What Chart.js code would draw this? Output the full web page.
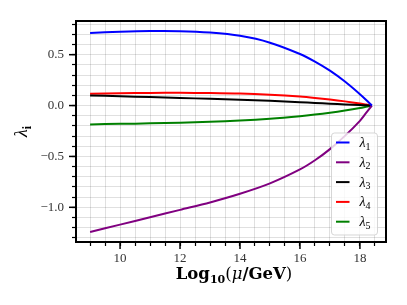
<!DOCTYPE html>
<html>
<head>
<meta charset="utf-8">
<script src="https://cdn.jsdelivr.net/npm/chart.js@4/dist/chart.umd.min.js"></script>
<style>
html,body{margin:0;padding:0;background:#fff;}
#wrap{width:407px;height:305px;position:relative;}
</style>
</head>
<body>
<div id="wrap"><canvas id="c" width="407" height="305"></canvas></div>
<script>
// ---- data ----
const xVals   = [9, 10, 11, 12, 13, 14, 15, 16, 16.5, 17, 17.5, 18, 18.2, 18.4];
const lambda1 = [0.713, 0.725, 0.732, 0.731, 0.717, 0.685, 0.618, 0.507, 0.432, 0.343, 0.236, 0.112, 0.058, 0];
const lambda2 = [-1.242, -1.17, -1.098, -1.025, -0.952, -0.867, -0.765, -0.628, -0.538, -0.428, -0.298, -0.15, -0.075, 0];
const lambda3 = [0.10, 0.092, 0.083, 0.075, 0.066, 0.057, 0.046, 0.033, 0.026, 0.018, 0.011, 0.005, 0.002, 0];
const lambda4 = [0.115, 0.121, 0.124, 0.125, 0.123, 0.118, 0.106, 0.088, 0.075, 0.059, 0.041, 0.02, 0.01, 0];
const lambda5 = [-0.185, -0.18, -0.175, -0.168, -0.16, -0.148, -0.13, -0.105, -0.089, -0.07, -0.049, -0.025, -0.013, 0];
const seriesNames  = ['1', '2', '3', '4', '5'];
const seriesColors = ['#0000ff', '#800080', '#000000', '#ff0000', '#008000'];
const xMajorTicks = [10, 12, 14, 16, 18];
const yMajorTicks = [-1.0, -0.5, 0.0, 0.5];
const xRange = [8.53, 18.87];
const yRange = [-1.341, 0.831];

const SERIF = '"Liberation Serif", "DejaVu Serif", serif';
const TSERIF = '"DejaVu Serif", serif';
const allSeries = [lambda1, lambda2, lambda3, lambda4, lambda5];

const datasets = allSeries.map((vals, i) => ({
  label: 'λ' + seriesNames[i],
  data: xVals.map((x, j) => ({x: x, y: vals[j]})),
  borderColor: seriesColors[i],
  backgroundColor: seriesColors[i],
  borderWidth: 2,
  pointRadius: 0,
  tension: 0.3,
  fill: false
}));

function isMajor(v, list) { return list.some(m => Math.abs(m - v) < 1e-6); }
function fmtY(v) {
  const s = Math.abs(v).toFixed(1);
  return (v < -1e-9 ? '\u2212' : '') + s;
}

const decor = {
  id: 'decor',
  afterDatasetsDraw(chart) {
    const ctx = chart.ctx;
    const ca = chart.chartArea;
    const xs = chart.scales.x, ys = chart.scales.y;
    ctx.save();
    // legend
    const lx = 331.5, ly = 133, lw = 46, lh = 102, r = 3;
    ctx.beginPath();
    ctx.moveTo(lx + r, ly);
    ctx.arcTo(lx + lw, ly, lx + lw, ly + lh, r);
    ctx.arcTo(lx + lw, ly + lh, lx, ly + lh, r);
    ctx.arcTo(lx, ly + lh, lx, ly, r);
    ctx.arcTo(lx, ly, lx + lw, ly, r);
    ctx.closePath();
    ctx.fillStyle = 'rgba(255,255,255,0.8)';
    ctx.fill();
    ctx.strokeStyle = 'rgba(204,204,204,0.8)';
    ctx.lineWidth = 1;
    ctx.stroke();
    chart.data.datasets.forEach((ds, i) => {
      const yy = 142.5 + i * 19.8;
      ctx.beginPath();
      ctx.moveTo(336, yy); ctx.lineTo(349.5, yy);
      ctx.strokeStyle = ds.borderColor; ctx.lineWidth = 2;
      ctx.stroke();
      ctx.fillStyle = '#000';
      ctx.textBaseline = 'alphabetic';
      ctx.textAlign = 'left';
      ctx.font = 'italic 14px ' + SERIF;
      ctx.fillText('λ', 359.5, yy + 4.5);
      const w = ctx.measureText('λ').width;
      ctx.font = '10px ' + SERIF;
      ctx.fillText(seriesNames[i], 359.5 + w, yy + 7);
    });
    // frame
    ctx.strokeStyle = '#000';
    ctx.lineWidth = 2;
    ctx.strokeRect(ca.left, ca.top, ca.right - ca.left, ca.bottom - ca.top);
    // major ticks (longer)
    ctx.lineWidth = 1.5;
    xMajorTicks.forEach(v => {
      const px = xs.getPixelForValue(v);
      ctx.beginPath(); ctx.moveTo(px, ca.bottom); ctx.lineTo(px, ca.bottom + 7); ctx.stroke();
    });
    yMajorTicks.forEach(v => {
      const py = ys.getPixelForValue(v);
      ctx.beginPath(); ctx.moveTo(ca.left, py); ctx.lineTo(ca.left - 7, py); ctx.stroke();
    });
    // x title
    const parts = [
      {t: 'Log', f: 'bold 16.5px ' + TSERIF, dy: 0},
      {t: '10', f: 'bold 11px ' + TSERIF, dy: 3.5},
      {t: '(', f: '16.5px ' + TSERIF, dy: 0},
      {t: 'μ', f: 'italic 16.5px ' + TSERIF, dy: 0},
      {t: '/GeV', f: 'bold 16.5px ' + TSERIF, dy: 0},
      {t: ')', f: '16.5px ' + TSERIF, dy: 0}
    ];
    let tot = 0;
    parts.forEach(p => { ctx.font = p.f; p.w = ctx.measureText(p.t).width; tot += p.w; });
    let cx = (ca.left + ca.right) / 2 + 3 - tot / 2;
    ctx.fillStyle = '#000';
    ctx.textAlign = 'left';
    ctx.textBaseline = 'alphabetic';
    parts.forEach(p => { ctx.font = p.f; ctx.fillText(p.t, cx, 279 + p.dy); cx += p.w; });
    // y title
    ctx.translate(27, (ca.top + ca.bottom) / 2);
    ctx.rotate(-Math.PI / 2);
    ctx.font = 'italic 18px ' + SERIF;
    const lw1 = ctx.measureText('λ').width;
    ctx.font = 'bold 12px ' + SERIF;
    const lw2 = ctx.measureText('i').width;
    const sx = -(lw1 + lw2) / 2;
    ctx.font = 'italic 18px ' + SERIF;
    ctx.fillText('λ', sx, 0);
    ctx.font = 'bold 12px ' + SERIF;
    ctx.fillText('i', sx + lw1, 4);
    ctx.restore();
  }
};

new Chart(document.getElementById('c'), {
  type: 'line',
  data: { datasets: datasets },
  options: {
    responsive: false,
    animation: false,
    devicePixelRatio: 1,
    layout: { padding: { left: 0, right: 21, top: 21, bottom: 0 } },
    plugins: { legend: { display: false }, tooltip: { enabled: false } },
    scales: {
      x: {
        type: 'linear',
        min: xRange[0], max: xRange[1],
        afterFit(s) { s.height = 63; },
        afterBuildTicks(s) {
          const t = [];
          for (let k = 18; k <= 37; k++) t.push({value: k / 2});
          s.ticks = t;
        },
        border: { display: false },
        grid: { color: 'rgba(0,0,0,0.12)', lineWidth: 1, drawTicks: true, tickLength: 4, tickColor: '#000', tickWidth: 1.2 },
        ticks: {
          padding: 5,
          color: '#333',
          font: { family: SERIF, size: 13 },
          maxRotation: 0,
          autoSkip: false,
          callback: v => isMajor(v, xMajorTicks) ? String(v) : ''
        }
      },
      y: {
        type: 'linear',
        min: yRange[0], max: yRange[1],
        afterFit(s) { s.width = 76; },
        afterBuildTicks(s) {
          const t = [];
          for (let k = -13; k <= 8; k++) t.push({value: k / 10});
          s.ticks = t;
        },
        border: { display: false },
        grid: { color: 'rgba(0,0,0,0.12)', lineWidth: 1, drawTicks: true, tickLength: 4, tickColor: '#000', tickWidth: 1.2 },
        ticks: {
          padding: 8,
          color: '#333',
          font: { family: SERIF, size: 13 },
          autoSkip: false,
          callback: v => isMajor(v, yMajorTicks) ? fmtY(v) : ''
        }
      }
    }
  },
  plugins: [decor]
});
</script>
</body>
</html>
